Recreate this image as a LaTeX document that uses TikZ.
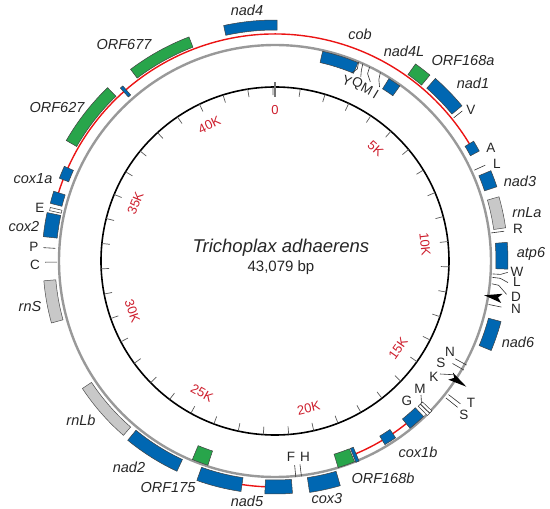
\documentclass[tikz,border=0pt]{standalone}
\usepackage{fontspec}
\setmainfont{Liberation Sans}
\definecolor{gblue}{RGB}{0,103,178}
\definecolor{ggreen}{RGB}{40,165,75}
\definecolor{ggrey}{RGB}{200,200,200}
\definecolor{sred}{RGB}{205,30,45}
\definecolor{ired}{RGB}{235,20,20}
\newcommand{\gbk}[5]{\draw[#1] ({90-(#2)}:#4) arc[start angle={90-(#2)}, end angle={90-(#3)}, radius=#4] -- ({90-(#3)}:#5) arc[start angle={90-(#3)}, end angle={90-(#2)}, radius=#5] -- cycle;}
\newcommand{\trk}[4][trna]{\draw[#1] ({90-(#2)}:#3) -- ({90-(#2)}:#4);}
\tikzset{
 bluegene/.style={fill=gblue, draw=black!75, line width=0.5pt},
 greengene/.style={fill=ggreen, draw=black!75, line width=0.5pt},
 rrna/.style={fill=ggrey, draw=black!70, line width=0.5pt},
 trna/.style={draw=black!80, line width=0.6pt},
 trnabox/.style={draw=black!80, fill=white, line width=0.5pt},
 intron/.style={draw=ired, line width=1.4pt},
 glab/.style={font=\fontsize{14.5}{16}\selectfont\itshape, text=black!85, inner sep=0pt},
 tlab/.style={font=\fontsize{13.5}{15}\selectfont, text=black!85, inner sep=0pt},
 slab/.style={font=\fontsize{13}{14}\selectfont, text=sred, inner sep=0pt},
}
\begin{document}
\begin{tikzpicture}[x=1pt,y=1pt]
\useasboundingbox (-275,-248) rectangle (275,261);
% scale circle
\draw[black, line width=1.6pt] (0,0) circle[radius=174];
\foreach \k in {1,...,43} {\draw[black!65, line width=0.7pt] ({90-\k*8.35674}:166) -- ({90-\k*8.35674}:174);}
\draw[black!55, line width=1.3pt] (90:164) -- (90:179);
\foreach \k/\t/\r in {0/0/0,5/5K/-41.78,10/10K/-83.57,15/15K/54.65,20/20K/12.87,25/25K/-28.92,30/30K/-70.70,35/35K/67.51,40/40K/25.73}
 {\node[slab, rotate=\r] (s\k) at ({90-\k*8.35674}:151) {\t};}
% grey ring
\draw[black!40, line width=2.4pt] (0,0) circle[radius=216];
% red lines
\draw[intron] (164:227) arc[start angle=164, end angle=29.7, radius=227];
\draw[intron] (-48.7:209) arc[start angle=-48.7, end angle=-67.6, radius=209];
\draw[intron] (-92.5:226) arc[start angle=-92.5, end angle=-98.4, radius=226];
% genes
\gbk{bluegene}{-84}{-78}{219}{233}
\gbk{bluegene}{-75.6}{-72.5}{220}{232}
\gbk{bluegene}{-69}{-65.8}{221}{231}
\gbk{bluegene}{-41.8}{-41.0}{220}{232}
\gbk{greengene}{-60}{-44}{229}{241}
\gbk{greengene}{-37}{-21}{229}{240}
\gbk{bluegene}{-12.3}{0.5}{231}{241}
\gbk{bluegene}{12.8}{22.7}{203.5}{215}
\gbk{bluegene}{32}{35.5}{203}{215}
\gbk{greengene}{35.5}{39.8}{229}{242}
\gbk{bluegene}{41.3}{50.3}{230}{243}
\gbk{bluegene}{58.9}{61.7}{222}{232}
\gbk{bluegene}{67.3}{71.5}{221}{234}
\gbk{rrna}{74}{81.8}{221}{233}
\gbk{bluegene}{85.4}{92}{221}{233}
\gbk{bluegene}{105}{112.5}{221}{234}
\gbk{bluegene}{136.3}{141.1}{203}{215}
\gbk{bluegene}{145.7}{149.1}{204}{214}
\gbk{bluegene}{157.2}{158.1}{202}{217}
\gbk{greengene}{158.4}{163}{202}{216}
\gbk{bluegene}{163.8}{171.5}{219}{234}
\gbk{bluegene}{175.7}{182.5}{219}{233}
\gbk{bluegene}{188.4}{199.6}{219}{233}
\gbk{greengene}{198.2}{202.6}{200}{215}
\gbk{bluegene}{205}{219.4}{219}{232}
\gbk{rrna}{221}{236.5}{220}{231}
\gbk{rrna}{254.5}{265.1}{220}{232}
% tRNAs
\gbk{trnabox}{-77.4}{-76.6}{219}{231}
\trk{273.3}{220}{232}
\trk{269.7}{218}{230}
\trk{82.6}{218}{231}
\trk{65.5}{219}{231}
\trk{101.5}{218}{231}
\trk{51.3}{229}{240}
\trk{127.6}{219}{234}
\trk{128.7}{219}{234}
\trk{174.5}{205}{217}
\trk{173}{205}{217}
\trk{118.5}{205}{218}
\trk{120}{205}{218}
\gbk{trnabox}{133.7}{134.5}{204}{217}
\gbk{trnabox}{134.6}{135.4}{204}{217}
% YQMI leaders
\draw[trna] ({90-22.8}:216) -- ({90-23.2}:209) -- ({90-22.2}:203);
\draw[trna] ({90-24}:216) -- ({90-24.4}:209) -- ({90-25}:203);
\draw[trna] ({90-26}:216) -- ({90-26.3}:209) -- ({90-28}:203);
\draw[trna] ({90-29.2}:216) -- ({90-29.8}:209) -- ({90-31}:203);
% W L D leaders
\draw[trna] ({90-93.4}:218) -- ({90-93.4}:226) -- ({90-92.8}:233);
\draw[trna] ({90-94.3}:218) -- ({90-94.4}:226) -- ({90-95.3}:234);
\draw[trna] ({90-96}:218) -- ({90-96.2}:225) -- ({90-98.2}:234);
% arrows
\fill[black] ({90-99.3}:212) -- ({90-98.2}:230) -- ({90-99.3}:226) -- ({90-100.5}:230) -- cycle;
\fill[black] ({90-123.3}:229) -- ({90-122.1}:210) -- ({90-123.1}:214) -- ({90-124.4}:210) -- cycle;
\coordinate (kend) at ({90-122.6}:211);
\draw[trna] (165,-113) -- (kend);
\draw[trna] (146,-134) -- ({90-134.1}:204);
% gene labels
\node[glab] (lnad4) at (-28,251) {nad4};
\node[glab] (lcob) at (85,227) {cob};
\node[glab] (lnad4L) at (129,210) {nad4L};
\node[glab] (lorfa) at (188,200) {ORF168a};
\node[glab] (lnad1) at (198,178) {nad1};
\node[glab] (lnad3) at (245,80) {nad3};
\node[glab] (lrnLa) at (252,48) {rnLa};
\node[glab] (latp6) at (256,7) {atp6};
\node[glab] (lnad6) at (243,-81) {nad6};
\node[glab] (lcox1b) at (143,-191) {cox1b};
\node[glab] (lorfb) at (108,-217) {ORF168b};
\node[glab] (lcox3) at (52,-238) {cox3};
\node[glab] (lnad5) at (-28,-240) {nad5};
\node[glab] (lorf175) at (-107,-227) {ORF175};
\node[glab] (lnad2) at (-146,-206) {nad2};
\node[glab] (lrnLb) at (-194,-159) {rnLb};
\node[glab] (lrnS) at (-245,-46) {rnS};
\node[glab] (lcox2) at (-251,34) {cox2};
\node[glab] (lcox1a) at (-242,82) {cox1a};
\node[glab] (lorf627) at (-218,153) {ORF627};
\node[glab] (lorf677) at (-151,216) {ORF677};
% tRNA labels
\node[tlab] (tV) at (196,151) {V};
\node[tlab] (tA) at (216,113) {A};
\node[tlab] (tL1) at (222,97) {L};
\node[tlab] (tR) at (243,32) {R};
\node[tlab] (tW) at (242,-11) {W};
\node[tlab] (tL2) at (242,-21) {L};
\node[tlab] (tD) at (241,-36) {D};
\node[tlab] (tN1) at (241,-48) {N};
\node[tlab] (tN2) at (175,-91) {N};
\node[tlab] (tS1) at (166,-102) {S};
\node[tlab] (tK) at (159,-116) {K};
\node[tlab] (tT) at (196,-142) {T};
\node[tlab] (tS2) at (189,-154) {S};
\node[tlab] (tM1) at (145,-128) {M};
\node[tlab] (tG) at (132,-140) {G};
\node[tlab] (tF) at (16,-196) {F};
\node[tlab] (tH) at (30,-196) {H};
\node[tlab] (tE) at (-235,53) {E};
\node[tlab] (tP) at (-241,14) {P};
\node[tlab] (tC) at (-240,-4) {C};
\node[tlab, rotate=-22] (tY) at (72,180) {Y};
\node[tlab, rotate=-25] (tQ) at (82,177) {Q};
\node[tlab, rotate=-28] (tM2) at (92,172) {M};
\node[tlab, rotate=-31] (tI) at (101,167) {I};
% title
\node[font=\fontsize{18.5}{20}\selectfont\itshape, text=black!85, inner sep=0pt] (title) at (6,13) {Trichoplax adhaerens};
\node[font=\fontsize{15}{17}\selectfont, text=black!85, inner sep=0pt] (size) at (6,-7) {43,079 bp};
\end{tikzpicture}
\end{document}
